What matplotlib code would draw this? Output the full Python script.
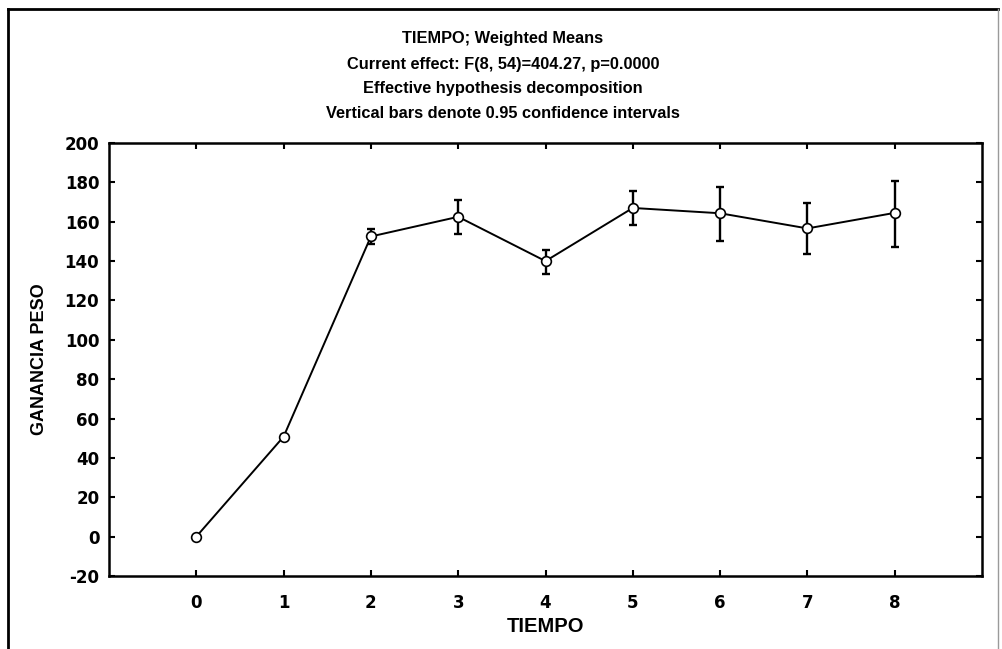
import matplotlib
matplotlib.use("Agg")
import matplotlib.pyplot as plt
from matplotlib.lines import Line2D

# ---- data ----
tiempo = [0, 1, 2, 3, 4, 5, 6, 7, 8]
means = [0.0, 50.8, 152.5, 162.5, 140.0, 167.0, 164.3, 156.6, 164.5]
ci_upper = [0.0, 51.5, 156.1, 171.0, 145.6, 175.8, 177.6, 169.5, 180.8]
ci_lower = [0.0, 50.0, 148.8, 153.6, 133.6, 158.3, 150.2, 143.6, 147.0]
y_ticks = [-20, 0, 20, 40, 60, 80, 100, 120, 140, 160, 180, 200]

title_lines = [
    "TIEMPO; Weighted Means",
    "Current effect: F(8, 54)=404.27, p=0.0000",
    "Effective hypothesis decomposition",
    "Vertical bars denote 0.95 confidence intervals",
]

W, H = 1003, 649
fig = plt.figure(figsize=(W / 100, H / 100), dpi=100)
fig.patch.set_facecolor("white")

ax = fig.add_axes([109 / W, 1 - 576 / H, (982 - 109) / W, (576 - 143) / H])

yerr = [[m - lo for m, lo in zip(means, ci_lower)],
        [hi - m for m, hi in zip(means, ci_upper)]]
ax.errorbar(tiempo, means, yerr=yerr, fmt="none", ecolor="black",
            elinewidth=1.7, capsize=3.0, capthick=1.7, zorder=2)
ax.plot(tiempo, means, color="black", lw=1.4, marker="o", markersize=7,
        markerfacecolor="white", markeredgecolor="black", markeredgewidth=1.2,
        zorder=3)

ax.set_xlim(-1, 9)
ax.set_ylim(-20, 200)
ax.set_xticks(tiempo)
ax.set_yticks(y_ticks)

tick_font = dict(family="DejaVu Sans", weight="bold", size=12)
ax.set_xticklabels([str(t) for t in tiempo], fontdict=tick_font)
ax.set_yticklabels([str(v) for v in y_ticks], fontdict=tick_font)

ax.tick_params(axis="both", direction="in", length=4, width=1.5,
               top=True, right=True, colors="black")
ax.tick_params(axis="x", pad=13)
ax.tick_params(axis="y", pad=7)
for s in ax.spines.values():
    s.set_linewidth(1.8)
    s.set_color("black")

label_font = dict(family="Liberation Sans", weight="bold")
ax.set_xlabel("TIEMPO", fontsize=14.5, **label_font)
ax.set_ylabel("GANANCIA PESO", fontsize=13, **label_font)
ax.yaxis.set_label_coords(-(109 - 40) / (982 - 109), 0.5)
ax.xaxis.set_label_coords(0.5, -(627 - 576) / (576 - 143))
ax.xaxis.label.set_va("center")
ax.yaxis.label.set_va("center")

ys = [38, 64, 89, 114]
for txt, yy in zip(title_lines, ys):
    fig.text(503 / W, 1 - yy / H, txt, ha="center", va="center",
             fontsize=11.8, **label_font)

# outer frame
fig.add_artist(Line2D([8 / W, 8 / W], [0, 1 - 9 / H], transform=fig.transFigure,
                      color="black", lw=2.0))
fig.add_artist(Line2D([8 / W, 998 / W], [1 - 9 / H, 1 - 9 / H],
                      transform=fig.transFigure, color="black", lw=2.0))
fig.add_artist(Line2D([998 / W, 998 / W], [0, 1 - 9 / H], transform=fig.transFigure,
                      color="#9a9a9a", lw=1.0))

fig.savefig("out.png", dpi=100, facecolor="white")
